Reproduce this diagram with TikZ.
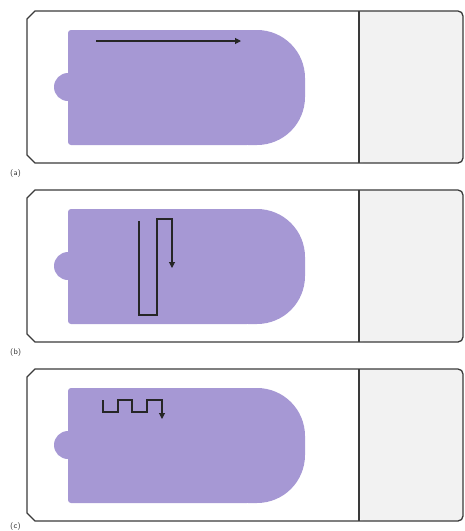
\documentclass[tikz,border=0pt]{standalone}
\usetikzlibrary{arrows.meta}
\definecolor{gel}{HTML}{A698D4}
\definecolor{labelzone}{HTML}{F2F2F2}
\definecolor{rim}{HTML}{3A3A3A}
\tikzset{
  slideedge/.style={draw=rim, line width=1.3pt},
  scanpath/.style={draw=black!85, line width=1.1pt, line join=miter,
    -{Triangle[length=6pt,width=6pt]}},
  panellabel/.style={font=\sffamily\fontsize{8}{9}\selectfont, text=black!80, inner sep=0pt}
}
% one microscope slide with a purple tissue section
\newcommand{\slidepanel}{%
  \fill[labelzone, rounded corners=5pt] (359,11) -- (463,11) -- (463,163) -- (359,163) [sharp corners] -- cycle;
  \fill[gel, rounded corners=3pt] (68,30) rectangle (250,145);
  \fill[gel, rounded corners=48pt] (200,30) rectangle (305,145);
  \fill[gel] (68,87) circle (14);
  \draw[slideedge] (27,19) -- (35,11) [rounded corners=5pt] -- (463,11) -- (463,163) [sharp corners] -- (35,163) -- (27,155) -- cycle;
  \draw[slideedge] (359,11) -- (359,163);
}
\begin{document}
\begin{tikzpicture}[x=1pt,y=-1pt]
\useasboundingbox (0,0) rectangle (464,531);

% (a) straight sweep
\begin{scope}
  \slidepanel
  \coordinate (a0) at (96,41);
  \coordinate (a1) at (241,41);
  \draw[scanpath] (a0) -- (a1);
  \node[panellabel, anchor=west] (la) at (10,173) {(a)};
\end{scope}

% (b) serpentine sweep
\begin{scope}[yshift=-179pt]
  \slidepanel
  \coordinate (b0) at (139,42);
  \coordinate (b1) at (172,89);
  \draw[scanpath] (b0) -- (139,136) -- (157,136) -- (157,40) -- (172,40) -- (b1);
  \node[panellabel, anchor=west] (lb) at (10,173) {(b)};
\end{scope}

% (c) square-wave sweep
\begin{scope}[yshift=-358pt]
  \slidepanel
  \coordinate (c0) at (103,42);
  \coordinate (c1) at (162,61);
  \draw[scanpath] (c0) -- (103,54) -- (118,54) -- (118,42) -- (132,42) -- (132,54)
    -- (147,54) -- (147,42) -- (162,42) -- (c1);
  \node[panellabel, anchor=west] (lc) at (10,168) {(c)};
\end{scope}
\end{tikzpicture}
\end{document}
